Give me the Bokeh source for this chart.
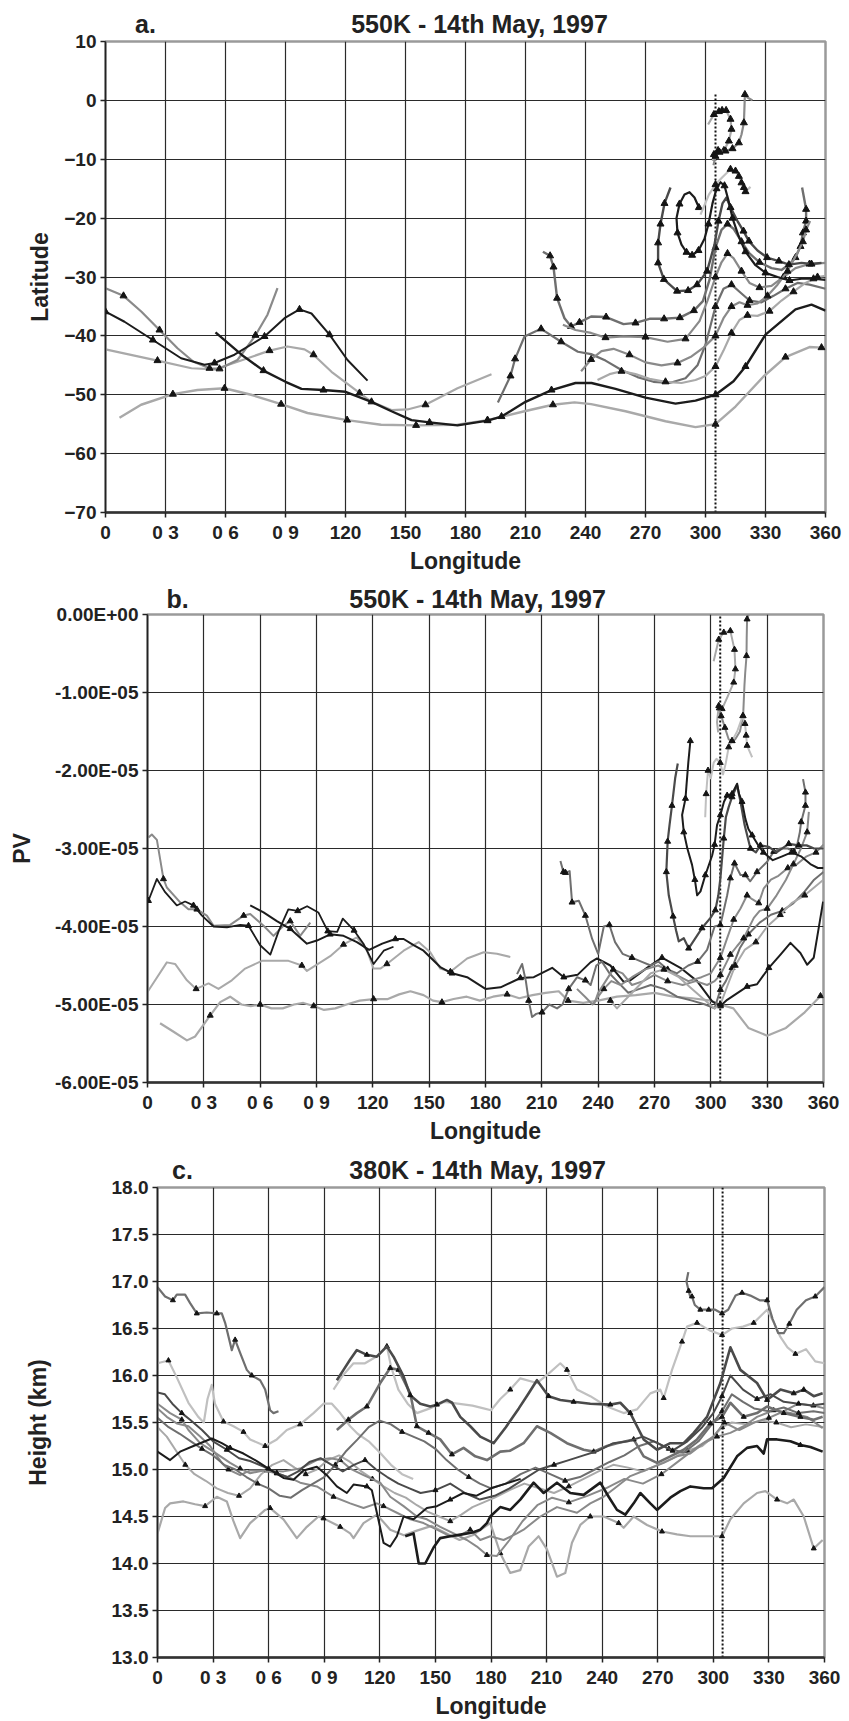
from bokeh.plotting import figure
from bokeh.models import FixedTicker, LinearAxis, PrintfTickFormatter
from bokeh.embed import file_html
from bokeh.resources import INLINE

FONT = "Liberation Sans"

# ---------------- common axis data ----------------
lon_ticks = [0, 30, 60, 90, 120, 150, 180, 210, 240, 270, 300, 330, 360]
lon_labels = ["0", "0 3", "0 6", "0 9", "120", "150", "180", "210", "240", "270", "300", "330", "360"]
init_lon = 305  # dotted line: trajectory start longitude

# ---------------- panel a: latitude ----------------
a_letter = "a."
a_title = "550K - 14th May, 1997"
a_ticks = [-70, -60, -50, -40, -30, -20, -10, 0, 10]
a_dot_top = 1.0

a1_lon = [0, 9, 18, 27, 36, 44, 52, 57, 66, 75, 81, 86]
a1_lat = [-31.9, -33.2, -35.9, -39.0, -42.1, -44.4, -45.5, -45.6, -44.1, -39.9, -36.4, -31.9]
a1_mk = [1, 3, 6, 7, 9]

a2_lon = [0, 9.5, 23.7, 37.8, 49.5, 54.5, 64.5, 79.5, 89.5, 97, 103, 112, 121, 131]
a2_lat = [-35.9, -37.6, -40.7, -43.8, -44.9, -44.6, -43.2, -40.1, -37.0, -35.5, -36.2, -39.8, -44.1, -47.6]
a2_mk = [0, 2, 5, 7, 9, 11]

a3_lon = [0, 26, 43, 54.5, 66, 82, 91, 99.5, 104, 113, 127, 133, 143, 151, 160, 176, 193]
a3_lat = [-42.3, -44.2, -45.5, -45.7, -44.4, -42.5, -41.8, -42.3, -43.2, -46.1, -49.7, -51.2, -52.6, -52.5, -51.7, -48.9, -46.5]
a3_mk = [1, 5, 8, 10, 14]

a4_lon = [55, 68, 79, 90, 98, 109, 120, 133, 143, 153, 162, 176, 191, 198, 210, 223, 235, 243, 255, 270,
          285, 295, 305, 314, 320, 330, 345, 353, 360]
a4_lat = [-39.4, -43.2, -45.9, -47.8, -49.0, -49.2, -49.5, -51.2, -52.8, -54.3, -54.7, -55.2, -54.4, -53.7, -51.2,
          -49.2, -48.0, -48.0, -49.0, -50.5, -51.5, -51.0, -50.0, -47.7, -45.2, -39.8, -35.5, -34.7, -35.7]
a4_mk = [2, 5, 7, 10, 12, 13, 15, 22, 24]

a5_lon = [7, 17.8, 33.7, 46, 59.5, 72.8, 87.8, 101, 120.8, 137.8, 155.3, 176, 191, 209.5, 223.7, 234.5, 242.8,
          260, 280, 295, 305, 315, 329, 340, 352, 358, 360]
a5_lat = [-53.9, -51.7, -49.9, -49.2, -48.9, -50.0, -51.6, -53.1, -54.3, -55.1, -55.2, -55.1, -54.3, -52.8, -51.7,
          -51.3, -51.6, -52.8, -54.5, -55.5, -55.0, -52.0, -46.9, -43.6, -41.9, -42.0, -42.0]
a5_mk = [2, 4, 6, 8, 10, 12, 14, 20, 23, 25]

a6_lon = [196.2, 202.5, 204.8, 209.5, 217.8, 227.8, 236.2, 242.8, 250, 258, 266, 274, 282, 290, 296, 300, 305,
          309, 313, 317, 322, 328, 334, 340, 346, 352, 360]
a6_lat = [-51.3, -46.8, -43.9, -40.1, -38.8, -41.0, -42.7, -43.1, -44.2, -45.8, -47.0, -47.8, -48.0, -47.2, -45.0,
          -41.5, -35.0, -32.0, -31.3, -32.5, -34.0, -34.3, -33.2, -32.0, -31.0, -31.3, -32.0]
a6_mk = [1, 2, 4, 5, 16, 18, 20, 23]

a7_lon = [218.7, 222.3, 224, 225.8, 229.5, 232.8, 237, 242.8, 250.3, 259, 265, 272, 279.3, 287.2, 294.2, 298.7,
          302, 305, 308, 311, 314, 318, 322, 327, 333, 338, 342, 345, 347.5, 348.7, 350.3, 350.3, 348.3]
a7_lat = [-25.7, -26.4, -28.3, -33.6, -37.0, -38.4, -37.7, -36.7, -36.8, -38.0, -37.8, -37.1, -37.1, -36.9, -35.7,
          -34.1, -30.5, -25.0, -22.0, -21.0, -21.8, -24.0, -26.0, -27.5, -28.5, -28.8, -27.8, -26.7, -24.8, -22.5,
          -20.5, -18.5, -14.8]
a7_mk = [1, 2, 3, 5, 6, 8, 10, 12, 13, 14, 17, 19, 21, 23, 27, 28, 29, 30, 31]

a8_lon = [228.7, 235, 242.8, 250, 259, 270, 281, 290, 297, 301, 305, 308, 311, 314, 318, 322, 327, 333, 339, 345, 352, 360]
a8_lat = [-38.1, -39.0, -39.5, -40.3, -40.1, -40.2, -41.0, -40.5, -37.5, -34.0, -30.0, -27.5, -26.0, -26.8, -29.0,
          -31.0, -31.8, -31.5, -30.0, -28.5, -27.8, -27.6]
a8_mk = [3, 5, 7, 10, 12, 14, 16, 18, 20]

a9_lon = [237.8, 242.8, 248, 254, 262, 270, 278, 286, 293, 299, 305, 309, 313, 317, 321, 326, 331, 336, 341, 345,
          348.7, 350.3, 352.3]
a9_lat = [-46.0, -44.0, -42.6, -42.2, -43.2, -44.5, -45.0, -44.6, -43.5, -42.0, -40.0, -37.0, -35.0, -34.3, -34.8,
          -34.5, -33.2, -31.3, -29.0, -26.5, -24.0, -22.0, -20.5]
a9_mk = [1, 4, 7, 10, 12, 14, 16, 18, 20, 21]

a10_lon = [246, 252, 258, 265, 272, 280, 288, 295, 300, 305, 309, 313, 317, 321, 326, 332, 338, 344, 350, 356, 360]
a10_lat = [-47.5, -46.5, -46.0, -46.5, -47.3, -47.8, -48.0, -47.5, -46.8, -45.2, -42.5, -39.5, -37.3, -36.5, -36.6,
           -35.8, -34.0, -32.5, -31.0, -30.0, -29.8]
a10_mk = [2, 5, 9, 11, 13, 15, 17, 19]

a11_lon = [282.5, 279.5, 277.5, 276.3, 276.3, 279.2, 285.8, 291.3, 295.8, 300.8, 304.5, 306.5, 308.5, 310.5, 312.5,
           316, 319, 321.7, 326, 330.8, 336.7, 341.7, 348, 353, 358]
a11_lat = [-14.8, -17.5, -21.0, -24.2, -27.6, -30.4, -32.4, -32.3, -31.3, -29.0, -24.5, -20.5, -17.5, -16.5, -18.2,
           -20.5, -22.2, -23.9, -25.5, -26.7, -27.3, -27.9, -27.6, -27.8, -27.6]
a11_mk = [1, 2, 3, 4, 5, 6, 7, 8, 9, 11, 14, 16, 17, 19, 20, 21, 23]

a12_lon = [296.7, 294.5, 292, 289.5, 287, 285.5, 286, 288, 290.5, 293.3, 296.5, 299.5, 301.5, 303.5, 305.5, 307.5,
           309.5, 311.5, 313.5, 316.5, 320, 325, 330, 336, 342, 348, 354, 360]
a12_lat = [-18.2, -16.5, -15.6, -16.0, -17.6, -20.0, -22.5, -24.5, -25.8, -26.3, -25.5, -23.5, -21.0, -17.5, -15.0,
           -13.9, -14.5, -17.0, -20.0, -23.0, -25.7, -28.0, -29.3, -30.0, -30.6, -30.3, -30.3, -30.5]
a12_mk = [0, 4, 6, 8, 9, 10, 12, 14, 16, 18, 20, 22, 24, 26]

a13_lon = [301.3, 304.2, 306.7, 308.3, 310.3, 312.5, 313, 311.7, 309.2, 306.3, 304.2, 303.7]
a13_lat = [-4.1, -2.4, -1.9, -1.7, -1.7, -3.2, -4.9, -6.9, -8.5, -8.5, -9.2, -10.3]
a13_mk = [1, 2, 3, 4, 5, 6, 7, 8, 9, 10]

a14_lon = [323.5, 321, 319.7, 319.5, 319.2, 318, 316.7, 313.5, 310, 307, 305, 304]
a14_lat = [0.0, 0.5, 1.0, -1.0, -3.8, -5.8, -7.2, -8.2, -8.6, -8.8, -9.5, -11.0]
a14_mk = [2, 4, 6, 7, 8, 9, 10]

a15_lon = [297.5, 301.7, 305, 308.3, 312.5, 315, 316.7, 318, 319.2, 320, 322.5]
a15_lat = [-19.4, -16.0, -14.3, -13.1, -11.7, -12.0, -12.9, -14.0, -14.8, -15.5, -14.7]
a15_mk = [2, 4, 5, 6, 7, 8, 9]

# ---------------- panel b: PV (units of 1e-5) ----------------
b_letter = "b."
b_title = "550K - 14th May, 1997"
b_ticks = [-6, -5, -4, -3, -2, -1, 0]
b_labels = ["-6.00E-05", "-5.00E-05", "-4.00E-05", "-3.00E-05", "-2.00E-05", "-1.00E-05", "0.00E+00"]

b1_lon = [0.5, 2.3, 5, 8.5, 10.3, 17.4, 21.8, 26.3, 31.6, 35.2, 44, 51.2, 54.7, 61.8, 67.1, 72, 76, 81.3, 86.7]
b1_pv = [-2.86, -2.82, -2.89, -3.39, -3.50, -3.69, -3.78, -3.78, -3.86, -3.99, -3.98, -3.86, -3.84, -3.99, -4.12,
         -4.0, -3.93, -4.12, -3.95]
b1_mk = [3, 7, 11, 16]

b2_lon = [0.5, 5, 9.4, 15.6, 20, 24.5, 29, 35.2, 42.3, 49.4, 53.8, 60, 65.4, 70, 75, 80, 85, 91, 96, 101, 104, 110,
          115, 120.4, 125.8, 131]
b2_pv = [-3.67, -3.39, -3.56, -3.73, -3.68, -3.73, -3.86, -4.0, -4.01, -3.98, -3.99, -4.24, -4.36, -4.05, -3.78,
         -3.80, -3.74, -3.82, -4.06, -4.07, -3.90, -4.05, -4.22, -4.48, -4.31, -4.26]
b2_mk = [0, 5, 10, 15, 18, 21]

b3_lon = [0, 10.3, 14.7, 21, 25.9, 32.5, 37.8, 44.9, 52, 60.9, 69.8, 75.1, 82.2, 84.9, 90.2, 97.3, 104.4, 111.5,
          116.9, 120.4, 124, 127.5, 136.4, 144.4, 150.6, 155.9, 161.3, 170.2, 179, 186.1, 193.2]
b3_pv = [-4.84, -4.46, -4.48, -4.69, -4.80, -4.73, -4.80, -4.69, -4.54, -4.44, -4.44, -4.44, -4.50, -4.57, -4.49,
         -4.38, -4.23, -4.14, -4.31, -4.54, -4.54, -4.48, -4.31, -4.20, -4.33, -4.54, -4.58, -4.41, -4.33, -4.35, -4.39]
b3_mk = [4, 12, 16, 21, 26]

b4_lon = [54.7, 61.8, 68.9, 76, 84.9, 90.2, 97.3, 104.4, 111.5, 118, 125, 132, 136.4, 141.7, 147, 155.9, 162.2,
          170.2, 180, 188, 198.6, 205.7, 215.5, 221.7, 229, 235.9, 239.4, 246.5, 253.6, 257.2, 266, 274, 283.8,
          292.7, 300.7, 305.1, 308.7, 319.3, 324.6, 330.9, 337.1, 342.4, 347.7, 351.3, 354.8, 359.8]
b4_pv = [-3.73, -3.82, -3.93, -4.03, -4.22, -4.18, -4.10, -4.12, -4.20, -4.30, -4.22, -4.16, -4.16, -4.24, -4.31,
         -4.52, -4.60, -4.65, -4.80, -4.78, -4.66, -4.65, -4.53, -4.65, -4.62, -4.46, -4.41, -4.50, -4.71, -4.69,
         -4.53, -4.40, -4.53, -4.70, -4.96, -5.02, -4.94, -4.77, -4.74, -4.53, -4.36, -4.21, -4.34, -4.49, -4.40, -3.68]
b4_mk = [3, 6, 11, 16, 20, 23, 31, 35, 37, 39]

b5_lon = [6.7, 13.9, 21, 25.4, 29.8, 33.4, 38.7, 44, 50, 55, 60, 66, 72, 78, 83, 88.5, 94, 100, 106, 113, 120.4,
          128, 134, 140, 147, 152, 156.8, 163, 170, 177, 184, 191.5, 198, 205, 212, 219, 224, 232, 240, 250, 260,
          270, 280, 290, 300, 305, 312, 320, 330, 340, 350, 358.4, 360]
b5_pv = [-5.24, -5.35, -5.46, -5.41, -5.26, -5.14, -4.97, -4.90, -5.00, -5.02, -5.00, -5.05, -5.05, -5.00, -4.98,
         -5.02, -5.07, -5.05, -5.00, -4.95, -4.93, -4.93, -4.87, -4.83, -4.88, -4.95, -4.97, -4.93, -4.90, -4.95,
         -4.90, -4.87, -4.92, -4.88, -4.85, -4.83, -4.95, -4.98, -4.95, -4.90, -4.88, -4.85, -4.90, -4.92, -4.95,
         -5.00, -5.05, -5.30, -5.40, -5.30, -5.10, -4.89, -4.88]
b5_mk = [5, 10, 15, 20, 26, 31, 36, 45, 51]

b6_lon = [196.8, 199.5, 201.5, 203, 204.8, 207, 210.1, 214, 218.1, 221, 224.3, 228.8, 233.2, 236, 239, 242, 246,
          250, 256, 262, 268, 275, 282, 290, 297, 302, 305.1, 308, 311.3, 315.4, 320, 326, 332, 338, 344, 350, 355, 360]
b6_pv = [-4.61, -4.48, -4.70, -4.95, -5.16, -5.12, -5.10, -5.00, -5.05, -5.00, -4.80, -4.65, -4.69, -4.75, -4.50,
         -4.45, -4.60, -4.70, -4.85, -4.80, -4.75, -4.80, -4.90, -4.95, -5.00, -5.05, -4.81, -4.70, -4.53, -4.28,
         -4.10, -3.95, -3.85, -3.80, -3.70, -3.55, -3.40, -3.30]
b6_mk = [3, 6, 10, 12, 26, 28, 30, 33]

b7_lon = [219.9, 221.5, 222.6, 224.8, 226.1, 229.7, 233.2, 236.8, 240, 243, 246, 249, 253, 258, 263, 268, 272, 277,
          282, 288, 293, 298, 302, 305.1, 308.7, 310.4, 312.6, 315.8, 318.4, 321, 324.6, 330, 333.5, 337, 341,
          344.2, 346, 347.4, 348.1, 350.4, 350.4, 349.1]
b7_pv = [-3.16, -3.30, -3.31, -3.29, -3.69, -3.67, -3.86, -4.16, -4.35, -4.00, -3.98, -4.20, -4.35, -4.40, -4.45,
         -4.50, -4.45, -4.55, -4.60, -4.50, -4.45, -4.30, -4.00, -3.98, -3.60, -3.38, -3.19, -3.34, -3.34, -3.42,
         -3.30, -3.17, -3.04, -3.00, -3.00, -3.04, -2.95, -2.79, -2.66, -2.45, -2.28, -2.11]
b7_mk = [1, 2, 4, 6, 10, 13, 17, 20, 23, 25, 26, 28, 30, 32, 35, 38, 39, 40]

b8_lon = [228.7, 233, 237, 240, 243, 247, 252, 258, 265, 272, 280, 288, 295, 300, 305.1, 308.7, 312.2, 315.8,
          319.3, 322, 325.5, 328.2, 332, 336, 341, 346, 351, 356, 360]
b8_pv = [-4.80, -4.90, -5.00, -4.90, -4.80, -4.70, -4.75, -4.65, -4.55, -4.50, -4.60, -4.70, -4.65, -4.60, -4.40,
         -4.15, -3.91, -3.77, -3.60, -3.65, -3.70, -3.51, -3.40, -3.35, -3.25, -3.20, -3.10, -3.05, -2.95]
b8_mk = [4, 14, 16, 18, 20, 24, 27]

b9_lon = [237.8, 240, 244, 248, 253, 258, 264, 270, 277, 285, 292, 298, 302, 305.1, 310.4, 314, 317.5, 322.9, 326,
          330, 335, 340, 344, 348, 351.3, 352.2]
b9_pv = [-5.00, -4.85, -4.70, -4.55, -4.60, -4.75, -4.70, -4.62, -4.70, -4.75, -4.70, -4.75, -4.70, -4.62, -4.36,
         -4.25, -4.15, -3.89, -3.80, -3.77, -3.60, -3.40, -3.20, -3.00, -2.79, -2.53]
b9_mk = [3, 8, 13, 14, 16, 19, 22, 24]

b10_lon = [246.5, 250, 256, 262, 268, 275, 283, 290, 297, 302, 305.1, 309, 313, 318, 324, 330, 337, 343, 350, 355, 360]
b10_pv = [-4.95, -5.05, -4.90, -4.75, -4.60, -4.55, -4.65, -4.80, -4.95, -5.05, -5.00, -4.75, -4.50, -4.30, -4.20,
          -4.00, -3.85, -3.70, -3.60, -3.50, -3.40]
b10_mk = [0, 5, 10, 12, 14, 16, 18]

b11_lon = [282.4, 281, 279.3, 278, 277, 276.3, 277.6, 279.9, 281.5, 282.9, 285.6, 288.2, 291.8, 295.3, 299.8, 302.4,
           304, 305.1, 306.9, 308, 309.5, 311.3, 314, 315.8, 318, 321.1, 324, 326.4, 330.9, 335, 341.5, 346.8, 351,
           355, 360]
b11_pv = [-1.91, -2.10, -2.45, -2.70, -2.91, -3.30, -3.60, -3.87, -4.05, -4.19, -4.15, -4.28, -4.15, -4.02, -3.89,
          -3.79, -3.60, -3.38, -2.87, -2.60, -2.47, -2.34, -2.19, -2.40, -2.70, -3.00, -3.05, -2.96, -2.98, -3.05,
          -2.94, -2.96, -2.96, -3.00, -3.00]
b11_mk = [2, 4, 5, 7, 11, 13, 15, 18, 21, 25, 27, 30, 31]

b12_lon = [289.1, 288, 287, 286.5, 284.7, 285.6, 287.5, 290, 291.5, 292.7, 294.5, 297.1, 300.7, 302, 303.3, 305.1,
           307, 308.7, 311.3, 314, 315, 316.6, 318.4, 320, 322, 325, 328, 333, 338, 343, 348, 353, 357, 360]
b12_pv = [-1.62, -1.90, -2.20, -2.36, -2.57, -2.79, -3.00, -3.21, -3.40, -3.60, -3.55, -3.34, -3.09, -2.95, -2.70,
          -2.57, -2.40, -2.32, -2.30, -2.17, -2.30, -2.40, -2.62, -2.75, -2.83, -2.95, -3.05, -3.15, -3.10, -3.05,
          -3.10, -3.20, -3.25, -3.25]
b12_mk = [0, 3, 5, 8, 11, 13, 15, 17, 18, 21, 24, 26, 29]

b13_lon = [301.5, 304.2, 306.9, 310.4, 312.6, 313.1, 312.2, 309, 306, 304.2, 303.3, 303.9]
b13_pv = [-0.60, -0.32, -0.23, -0.21, -0.45, -0.70, -0.87, -1.05, -1.21, -1.17, -1.38, -1.51]
b13_mk = [1, 2, 3, 4, 5, 6, 8, 9]

b14_lon = [320.2, 319.3, 319.1, 319, 318.3, 317.9, 317.2, 315.5, 313, 311.3, 309.5, 307.5, 305.5, 304.5]
b14_pv = [0.0, -0.06, -0.30, -0.53, -0.75, -0.91, -1.30, -1.50, -1.60, -1.62, -1.60, -1.45, -1.30, -1.20]
b14_mk = [1, 3, 6, 9, 11, 12, 13]

b15_lon = [297, 297.5, 298.5, 300, 301.5, 303, 305, 306.5, 308, 309.5, 311.3, 314, 317, 318.2, 318.8, 319.3, 322]
b15_pv = [-2.60, -2.30, -2.00, -2.10, -1.90, -1.85, -1.90, -2.05, -1.90, -1.70, -1.62, -1.50, -1.30, -1.40, -1.55,
          -1.68, -1.83]
b15_mk = [1, 2, 6, 9, 10, 12, 13, 14, 15]

# ---------------- panel c: height (km) ----------------
c_letter = "c."
c_title = "380K - 14th May, 1997"
c_ticks = [13.0, 13.5, 14.0, 14.5, 15.0, 15.5, 16.0, 16.5, 17.0, 17.5, 18.0]

c1_lon = [0, 4.1, 8.3, 10.4, 14.9, 17.6, 21.2, 26.6, 32, 34.7, 36.5, 40.1, 41.9, 44.6, 48.2, 50.9, 55.4, 58.1,
          60.8, 62.6, 65.3]
c1_h = [16.94, 16.84, 16.80, 16.86, 16.86, 16.77, 16.66, 16.67, 16.66, 16.66, 16.56, 16.27, 16.38, 16.24, 16.06,
        16.00, 15.95, 15.85, 15.63, 15.60, 15.62]
c1_mk = [2, 6, 8, 12, 15]

c2_lon = [0, 5.9, 10.4, 16.7, 22, 25, 27, 29.3, 31, 35.6, 41, 46.4, 50, 58.1, 64.4, 69.8, 77, 84.2, 89.6, 94.1,
          98.6, 104, 108, 114, 120, 126, 132, 138]
c2_h = [16.13, 16.16, 15.98, 15.71, 15.56, 15.50, 15.75, 15.90, 15.70, 15.51, 15.46, 15.40, 15.32, 15.25, 15.32,
        15.42, 15.48, 15.60, 15.70, 15.70, 15.60, 15.46, 15.38, 15.30, 15.18, 15.05, 14.95, 14.90]
c2_mk = [1, 9, 11, 13, 16]

c3_lon = [95, 100, 105.8, 112, 118, 123.8, 126, 130, 135, 140, 147, 155, 162, 170, 176, 180, 185, 190.4, 195.8,
          204.8, 211.1, 217.4, 221, 226.4, 233.6, 242.6, 251.6, 258.8, 266, 271.4, 273.2, 277.7, 283.1, 285.8,
          291.2, 298, 304.7, 310, 316, 321.8, 329, 333, 336.2, 340, 344.3, 350, 355, 360]
c3_h = [15.85, 16.00, 16.13, 16.13, 16.20, 16.31, 16.10, 15.85, 15.70, 15.60, 15.65, 15.72, 15.70, 15.68, 15.65,
        15.63, 15.75, 15.85, 15.97, 15.92, 16.02, 16.13, 16.06, 15.85, 15.78, 15.67, 15.60, 15.64, 15.81, 15.85,
        15.76, 16.06, 16.36, 16.52, 16.56, 16.48, 16.43, 16.50, 16.52, 16.56, 16.70, 16.55, 16.41, 16.30, 16.23,
        16.28, 16.15, 16.13]
c3_mk = [5, 17, 22, 30, 32, 34, 36, 39, 44]

c4_lon = [286.5, 285.5, 286.7, 287.5, 288.5, 290, 293, 297.5, 301, 304.7, 308, 312, 315.5, 320, 325, 329, 332, 335,
          338, 341, 345, 350, 355, 360]
c4_h = [17.10, 17.00, 16.90, 16.84, 16.84, 16.75, 16.70, 16.70, 16.70, 16.66, 16.70, 16.85, 16.88, 16.85, 16.80,
        16.80, 16.60, 16.45, 16.45, 16.55, 16.70, 16.80, 16.84, 16.94]
c4_mk = [2, 4, 6, 7, 9, 12, 15, 19, 22]

c5_lon = [0, 6.8, 12.2, 19.4, 29.3, 34.7, 39.2, 46.4, 53.6, 59.9, 68, 73.4, 78.8, 86, 91.4, 96.8, 102.2, 105.8,
          113, 115.7, 118.4, 122, 125.6, 129.2, 132.8, 138.2, 145.4, 150.8, 158, 165, 172, 180, 188, 196]
c5_h = [15.19, 15.10, 15.19, 15.25, 15.33, 15.28, 15.23, 15.17, 15.09, 15.01, 14.91, 14.89, 14.99, 15.03, 14.94,
        14.82, 14.75, 14.84, 14.82, 14.78, 14.54, 14.22, 14.18, 14.29, 14.50, 14.47, 14.59, 14.61, 14.68, 14.75,
        14.72, 14.80, 14.85, 14.90]
c5_mk = [6, 9, 18, 28]

c6_lon = [133.7, 138.2, 141, 144.5, 149, 152.6, 158, 164.3, 170, 174.2, 177.8, 179.6, 185, 190.4, 195.8, 203,
          208.4, 215.6, 222.8, 230, 239, 243.5, 248, 252.5, 257, 260.6, 266, 269.6, 276.8, 282.2, 287.6, 294.8,
          299.3, 305.6, 312.8, 318.2, 323.6, 327.2, 329, 334.4, 341.6, 347, 352.4, 359]
c6_h = [14.29, 14.32, 14.00, 14.00, 14.17, 14.27, 14.29, 14.31, 14.33, 14.36, 14.43, 14.50, 14.60, 14.57, 14.68,
        14.86, 14.75, 14.86, 14.75, 14.73, 14.86, 14.71, 14.57, 14.52, 14.64, 14.75, 14.64, 14.57, 14.70, 14.77,
        14.82, 14.80, 14.80, 14.91, 15.14, 15.23, 15.25, 15.17, 15.32, 15.32, 15.30, 15.26, 15.24, 15.19]
c6_mk = [41]

c7_lon = [0, 4.1, 6.8, 14, 20.3, 25.7, 32, 37.4, 41, 44.6, 50, 58.1, 60.8, 68, 75.2, 80.6, 86.9, 89.6, 98.6, 104,
          105.8, 111.2, 118.4, 125.6, 133, 140, 148, 156, 163, 170, 179.6, 185, 190.4, 195.8, 200.3, 205.7, 210.2,
          215.6, 220.1, 223.7, 228.2, 233.6, 240.8, 248.9, 251.6, 257, 264.2, 272.3, 280.4, 287.6, 294.8, 304.7,
          309.2, 316.4, 323.6, 328.1, 334.4, 339.8, 343.4, 348.8, 354.2, 359]
c7_h = [14.32, 14.59, 14.64, 14.66, 14.63, 14.61, 14.71, 14.66, 14.45, 14.27, 14.43, 14.57, 14.59, 14.47, 14.27,
        14.39, 14.50, 14.48, 14.39, 14.32, 14.27, 14.43, 14.52, 14.36, 14.30, 14.35, 14.40, 14.32, 14.25, 14.30,
        14.43, 14.11, 13.90, 13.93, 14.18, 14.29, 14.15, 13.86, 13.90, 14.22, 14.41, 14.50, 14.50, 14.43, 14.38,
        14.50, 14.41, 14.34, 14.31, 14.29, 14.29, 14.29, 14.47, 14.64, 14.75, 14.77, 14.68, 14.64, 14.68, 14.50,
        14.16, 14.25]
c7_mk = [5, 12, 17, 18, 31, 41, 43, 47, 51, 56, 60]

c8_lon = [96.8, 100.4, 104, 107.6, 113, 118.4, 123.8, 127.4, 132.8, 136.4, 141.8, 147.2, 150.8, 156.2, 159, 163.4,
          168.8, 174.2, 181.4, 188, 195, 200, 204.8, 211.1, 217.4, 224.6, 233.6, 244.4, 249.8, 255.2, 258.8, 262.4,
          269.6, 276.8, 284, 289.4, 296.6, 303.8, 309.2, 314.6, 323.6, 329, 336.2, 343.4, 348.8, 354.2, 359]
c8_h = [15.95, 16.06, 16.17, 16.27, 16.22, 16.20, 16.31, 16.20, 15.99, 15.79, 15.70, 15.67, 15.69, 15.74, 15.71,
        15.56, 15.46, 15.35, 15.28, 15.45, 15.65, 15.80, 15.95, 15.78, 15.74, 15.72, 15.70, 15.69, 15.71, 15.60,
        15.46, 15.32, 15.21, 15.28, 15.28, 15.39, 15.56, 15.92, 16.30, 16.06, 15.92, 15.74, 15.85, 15.81, 15.85,
        15.78, 15.81]
c8_mk = [4, 9, 12, 23, 25, 27, 29, 41, 43, 44]

c9_lon = [0, 6.8, 13.1, 16.7, 23, 30.2, 39.2, 44.6, 50, 57.2, 64.4, 71.6, 77, 86, 95, 104, 111.2, 118.4, 122,
          129.2, 136.4, 143.6, 150.8, 158, 163.4, 168.8, 174.2, 179.6, 186.8, 194, 197.6, 206.6, 215.6, 226.4,
          233.6, 240.8, 248, 255.2, 264.2, 273.2, 280.4, 287.6, 294.8, 302, 309.2, 316.4, 323.6, 332.6, 341.6,
          350.6, 359]
c9_h = [15.70, 15.60, 15.53, 15.42, 15.28, 15.19, 15.07, 15.01, 14.96, 14.99, 14.96, 14.91, 14.86, 14.82, 14.71,
        14.64, 14.59, 14.64, 14.61, 14.54, 14.47, 14.43, 14.36, 14.29, 14.30, 14.36, 14.25, 14.29, 14.25, 14.32,
        14.36, 14.50, 14.60, 14.54, 14.64, 14.71, 14.82, 14.93, 15.00, 15.07, 15.14, 15.17, 15.28, 15.35, 15.39,
        15.46, 15.56, 15.63, 15.60, 15.56, 15.44]
c9_mk = [2, 7, 10, 14, 18, 25, 43, 47]

c10_lon = [96.8, 103, 107.6, 113, 120.2, 125.6, 130.1, 136.4, 140, 146.3, 152.6, 158.9, 165.2, 171.5, 177.8, 185,
           190.4, 197.6, 204.8, 212, 221, 230, 235.4, 242.6, 248, 257, 262.4, 269.6, 276.8, 284, 291.2, 298.4,
           304.7, 309.2, 316.4, 323.6, 329, 338, 347, 354.2, 359]
c10_h = [15.42, 15.53, 15.60, 15.67, 15.92, 16.08, 16.06, 15.81, 15.46, 15.39, 15.32, 15.16, 15.23, 15.14, 15.10,
         15.19, 15.20, 15.28, 15.46, 15.39, 15.28, 15.21, 15.19, 15.25, 15.28, 15.32, 15.14, 15.07, 15.14, 15.21,
         15.32, 15.49, 15.56, 15.71, 15.56, 15.60, 15.67, 15.60, 15.56, 15.53, 15.56]
c10_mk = [1, 3, 5, 6, 8, 9, 11, 22, 25, 31, 32, 34, 37, 38]

c11_lon = [0, 5, 10.4, 16.7, 23, 28.4, 34.7, 38.3, 44.6, 50, 59, 68, 77, 86, 93.2, 98.6, 104, 111.2, 120.2, 125.6,
           132.8, 140, 145.4, 152.6, 159.8, 167, 172.4, 177.8, 183.2, 190, 197, 205, 213, 222, 232, 242, 252, 262,
           272, 282, 292, 300, 306, 314, 322, 330, 338, 346, 354, 360]
c11_h = [15.65, 15.56, 15.49, 15.46, 15.35, 15.25, 15.07, 15.00, 14.94, 14.99, 14.99, 14.98, 15.01, 15.10, 15.12,
         15.10, 15.01, 14.94, 14.86, 14.71, 14.61, 14.50, 14.47, 14.39, 14.32, 14.25, 14.18, 14.09, 14.08, 14.25,
         14.45, 14.62, 14.70, 14.65, 14.72, 14.80, 14.90, 14.85, 14.95, 15.10, 15.25, 15.35, 15.50, 15.42, 15.50,
         15.55, 15.62, 15.70, 15.68, 15.65]
c11_mk = [7, 10, 15, 27, 33, 38, 42, 45, 48]

c12_lon = [0, 4, 8, 13.1, 17.6, 24, 30, 37.4, 44, 50, 57.2, 64.4, 70, 76, 82, 88, 94, 100, 106, 112, 118, 124, 130,
           136, 142, 150, 158, 166, 174, 182, 190, 198, 206, 214, 222, 230, 238, 246, 254, 262, 270, 278, 286, 294,
           300, 304.7, 309.2, 316, 323.6, 331, 338, 346, 353, 360]
c12_h = [15.82, 15.80, 15.70, 15.60, 15.53, 15.42, 15.30, 15.21, 15.12, 15.09, 15.03, 14.96, 14.92, 14.98, 15.08,
         15.12, 15.05, 14.98, 15.05, 15.10, 15.00, 14.92, 14.85, 14.80, 14.75, 14.78, 14.85, 14.75, 14.68, 14.72,
         14.80, 14.90, 15.00, 15.05, 15.10, 15.15, 15.20, 15.28, 15.30, 15.35, 15.28, 15.20, 15.30, 15.45, 15.60,
         15.78, 16.00, 15.85, 15.75, 15.80, 15.72, 15.70, 15.68, 15.70]
c12_mk = [3, 7, 11, 19, 25, 33, 41, 45, 48, 51]

c13_lon = [0, 6, 12, 18, 24, 30, 36, 42, 48, 54, 60, 66, 72, 78, 84, 90, 96, 102, 108, 114, 120, 126, 132, 138,
           144, 150, 156, 162, 168, 174, 180, 188, 196, 204, 212, 220, 228, 236, 244, 252, 260, 268, 276, 284, 292,
           298, 304.7, 310, 316, 322, 330, 338, 346, 354, 360]
c13_h = [15.55, 15.45, 15.38, 15.30, 15.22, 15.15, 15.05, 15.00, 14.92, 14.85, 14.80, 14.72, 14.70, 14.78, 14.85,
         14.92, 15.05, 15.20, 15.32, 15.45, 15.52, 15.48, 15.40, 15.35, 15.30, 15.22, 15.10, 15.00, 14.92, 14.85,
         14.80, 14.85, 14.95, 15.02, 14.95, 14.88, 14.92, 15.00, 15.08, 15.15, 15.25, 15.30, 15.22, 15.18, 15.30,
         15.45, 15.62, 15.80, 15.72, 15.65, 15.62, 15.66, 15.60, 15.62, 15.60]
c13_mk = [4, 9, 16, 22, 28, 35, 42, 46, 52]

c14_lon = [0, 5, 10, 15, 20, 26, 32, 38, 44, 50, 56, 62, 68, 74, 80, 86, 92, 98, 104, 110, 116, 122, 128, 134, 140,
           146, 152, 158, 164, 170, 176, 182, 190, 198, 206, 214, 222, 230, 238, 246, 254, 262, 270, 278, 286, 294,
           300, 304.7, 310, 318, 326, 334, 342, 350, 360]
c14_h = [15.45, 15.35, 15.20, 15.05, 14.95, 14.88, 14.80, 14.75, 14.72, 14.80, 14.95, 15.05, 15.10, 15.02, 14.95,
         15.00, 15.10, 15.15, 15.08, 14.98, 14.90, 14.82, 14.75, 14.70, 14.62, 14.55, 14.50, 14.45, 14.52, 14.60,
         14.65, 14.70, 14.78, 14.85, 14.80, 14.75, 14.82, 14.90, 14.98, 15.05, 15.02, 14.98, 15.05, 15.12, 15.20,
         15.25, 15.35, 15.45, 15.50, 15.48, 15.52, 15.50, 15.45, 15.48, 15.45]
c14_mk = [3, 8, 14, 20, 27, 36, 44, 47, 51]

# ---------------- styling ----------------
BLACK = "#1c1c1c"
DARK = "#4a4a4a"
MID = "#6f6f6f"
GRAY = "#8a8a8a"
LIGHT = "#a9a9a9"
PALE = "#c0c0c0"
GRID = "#2a2a2a"
MARK = "#141414"
TEXT = "#222222"


def base_fig(height, yr, yticks, grid_y, bl, br, bt, bb, ylabel, y_standoff):
    p = figure(width=849, height=height, x_range=(0, 360), y_range=yr,
               output_backend="svg", toolbar_location=None,
               min_border_left=bl, min_border_right=br, min_border_top=bt, min_border_bottom=bb)
    p.background_fill_color = "white"
    p.border_fill_color = "white"
    p.outline_line_color = "#9a9a9a"
    p.outline_line_width = 2.5
    p.xaxis.ticker = FixedTicker(ticks=lon_ticks)
    p.xaxis.major_label_overrides = {t: s for t, s in zip(lon_ticks, lon_labels)}
    p.yaxis.ticker = FixedTicker(ticks=yticks)
    for ax in (p.xaxis[0], p.yaxis[0]):
        ax.major_label_text_font = FONT
        ax.major_label_text_font_style = "bold"
        ax.major_label_text_font_size = "19px"
        ax.major_label_text_color = TEXT
        ax.axis_label_text_font = FONT
        ax.axis_label_text_font_style = "bold"
        ax.axis_label_text_font_size = "23px"
        ax.axis_label_text_color = TEXT
        ax.major_tick_out = 5
        ax.major_tick_in = 0
        ax.minor_tick_line_color = None
        ax.major_tick_line_color = TEXT
        ax.major_tick_line_width = 1.5
        ax.major_label_standoff = 4
    p.xaxis.axis_line_color = "#333333"
    p.xaxis.axis_line_width = 2.5
    p.yaxis.axis_line_color = TEXT
    p.yaxis.axis_line_width = 1.5
    p.xaxis.axis_label = "Longitude"
    p.xaxis.axis_label_standoff = 2
    p.yaxis.axis_label = ylabel
    p.yaxis.axis_label_standoff = y_standoff
    p.xgrid.ticker = FixedTicker(ticks=lon_ticks[1:-1])
    p.ygrid.ticker = FixedTicker(ticks=grid_y)
    for g in (p.xgrid[0], p.ygrid[0]):
        g.grid_line_color = GRID
        g.grid_line_width = 1.2
    return p


def add_titles(p, letter, letter_x, title, title_x, standoff):
    # panel letter and title, written as labels of a bare axis above the frame
    pos = [letter_x, title_x]
    tax = LinearAxis(ticker=FixedTicker(ticks=pos),
                     major_label_overrides={letter_x: letter, title_x: title},
                     axis_line_color=None, major_tick_line_color=None, minor_tick_line_color=None,
                     major_tick_out=0, major_tick_in=0, major_label_standoff=standoff,
                     major_label_text_font=FONT, major_label_text_font_style="bold",
                     major_label_text_font_size="25px", major_label_text_color=TEXT)
    p.add_layout(tax, "above")


def traj(p, xs, ys, mk, color, width, msize):
    p.line(xs, ys, line_color=color, line_width=width, line_join="round")
    p.scatter([xs[i] for i in mk], [ys[i] for i in mk], marker="triangle", size=msize,
              fill_color=MARK, line_color=MARK)


# ---------------- panel a ----------------
pa = base_fig(576, (-70, 10), a_ticks, a_ticks[1:-1], 105, 24, 41, 64, "Latitude", 8)
add_titles(pa, a_letter, 20.0, a_title, 187.0, 4)
pa.segment(x0=[init_lon], y0=[a_ticks[0]], x1=[init_lon], y1=[a_dot_top],
           line_color="#111111", line_width=2, line_dash="2 2")
for xs, ys, mk, col, w in [
    (a5_lon, a5_lat, a5_mk, LIGHT, 2.4),
    (a3_lon, a3_lat, a3_mk, LIGHT, 2.2),
    (a1_lon, a1_lat, a1_mk, GRAY, 2.2),
    (a2_lon, a2_lat, a2_mk, BLACK, 2.0),
    (a4_lon, a4_lat, a4_mk, BLACK, 2.4),
    (a6_lon, a6_lat, a6_mk, MID, 2.2),
    (a7_lon, a7_lat, a7_mk, MID, 2.4),
    (a8_lon, a8_lat, a8_mk, GRAY, 2.2),
    (a9_lon, a9_lat, a9_mk, GRAY, 2.2),
    (a10_lon, a10_lat, a10_mk, LIGHT, 2.2),
    (a11_lon, a11_lat, a11_mk, DARK, 2.4),
    (a12_lon, a12_lat, a12_mk, BLACK, 2.2),
    (a13_lon, a13_lat, a13_mk, LIGHT, 2.2),
    (a14_lon, a14_lat, a14_mk, GRAY, 2.2),
    (a15_lon, a15_lat, a15_mk, PALE, 2.2),
]:
    traj(pa, xs, ys, mk, col, w, 7)

# ---------------- panel b ----------------
pb = base_fig(570, (-6, 0), b_ticks, b_ticks[1:-1], 147, 26, 38, 62, "PV", 17)
pb.yaxis.major_label_overrides = {t: s for t, s in zip(b_ticks, b_labels)}
add_titles(pb, b_letter, 16.0, b_title, 175.8, 2)
pb.segment(x0=[init_lon], y0=[b_ticks[0]], x1=[init_lon], y1=[b_ticks[-1]],
           line_color="#111111", line_width=2, line_dash="2 2")
for xs, ys, mk, col, w in [
    (b5_lon, b5_pv, b5_mk, LIGHT, 2.2),
    (b3_lon, b3_pv, b3_mk, LIGHT, 2.0),
    (b1_lon, b1_pv, b1_mk, GRAY, 2.0),
    (b2_lon, b2_pv, b2_mk, BLACK, 1.8),
    (b4_lon, b4_pv, b4_mk, BLACK, 2.0),
    (b6_lon, b6_pv, b6_mk, MID, 2.0),
    (b7_lon, b7_pv, b7_mk, MID, 2.0),
    (b8_lon, b8_pv, b8_mk, GRAY, 2.0),
    (b9_lon, b9_pv, b9_mk, GRAY, 2.0),
    (b10_lon, b10_pv, b10_mk, LIGHT, 2.0),
    (b11_lon, b11_pv, b11_mk, DARK, 2.2),
    (b12_lon, b12_pv, b12_mk, BLACK, 2.0),
    (b13_lon, b13_pv, b13_mk, LIGHT, 2.0),
    (b14_lon, b14_pv, b14_mk, GRAY, 2.0),
    (b15_lon, b15_pv, b15_mk, PALE, 2.0),
]:
    traj(pb, xs, ys, mk, col, w, 6)

# ---------------- panel c ----------------
pc = base_fig(575, (13, 18), c_ticks, c_ticks[1:-1], 157, 25, 41, 63, "Height (km)", 58)
pc.yaxis.formatter = PrintfTickFormatter(format="%.1f")
add_titles(pc, c_letter, 13.5, c_title, 172.8, 4)
pc.segment(x0=[init_lon], y0=[c_ticks[0]], x1=[init_lon], y1=[c_ticks[-1]],
           line_color="#111111", line_width=2, line_dash="2 2")
for xs, ys, mk, col, w in [
    (c7_lon, c7_h, c7_mk, LIGHT, 2.2),
    (c2_lon, c2_h, c2_mk, PALE, 2.2),
    (c3_lon, c3_h, c3_mk, PALE, 2.2),
    (c14_lon, c14_h, c14_mk, LIGHT, 2.0),
    (c11_lon, c11_h, c11_mk, GRAY, 2.0),
    (c9_lon, c9_h, c9_mk, GRAY, 2.0),
    (c13_lon, c13_h, c13_mk, MID, 2.0),
    (c1_lon, c1_h, c1_mk, MID, 2.2),
    (c4_lon, c4_h, c4_mk, MID, 2.2),
    (c10_lon, c10_h, c10_mk, MID, 2.6),
    (c12_lon, c12_h, c12_mk, DARK, 2.0),
    (c8_lon, c8_h, c8_mk, DARK, 2.6),
    (c5_lon, c5_h, c5_mk, BLACK, 2.0),
    (c6_lon, c6_h, c6_mk, BLACK, 2.6),
]:
    traj(pc, xs, ys, mk, col, w, 5)

# three separate roots so each panel keeps its own frame position
open("out.html", "w").write(file_html([pa, pb, pc], INLINE))
